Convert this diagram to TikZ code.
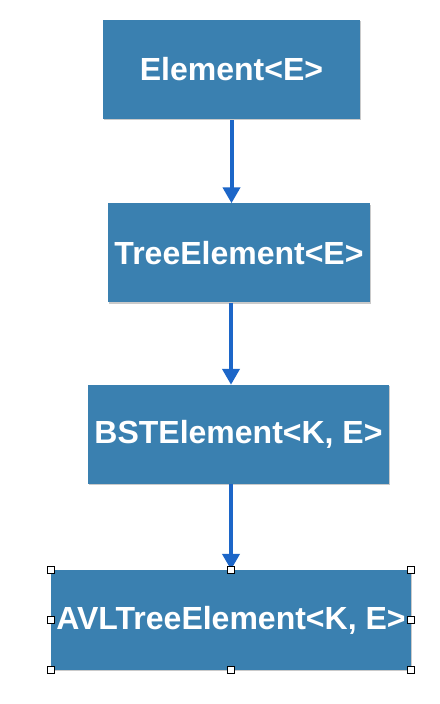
\documentclass[tikz,border=0pt]{standalone}
\usepackage{fontspec}
\setmainfont{Liberation Sans}
\usetikzlibrary{arrows.meta,shadows}
\definecolor{boxblue}{RGB}{58,128,176}
\definecolor{arrowblue}{RGB}{28,102,200}
\tikzset{
  classbox/.style={fill=boxblue, draw=none, minimum height=99pt, inner sep=0pt,
    text=white, font=\fontsize{32}{36}\selectfont\bfseries,
    drop shadow={shadow xshift=1pt, shadow yshift=-1.5pt, opacity=0.35, fill=black!60}},
  inherit/.style={draw=arrowblue, line width=4pt, -{Triangle[length=16pt,width=17pt]}},
  handle/.style={draw=black, fill=white, line width=0.8pt, minimum size=7pt, inner sep=0pt}
}
\begin{document}
\begin{tikzpicture}[x=1pt,y=1pt]
\useasboundingbox (0,0) rectangle (439,704);
\node[classbox, minimum width=257pt] (b1) at (231.5,634.5) {Element<E>};
\node[classbox, minimum width=262pt] (b2) at (239,451) {TreeElement<E>};
\node[classbox, minimum width=301pt] (b3) at (238.5,269.5) {BSTElement<K, E>};
\node[classbox, minimum width=360pt, minimum height=100pt] (b4) at (231,84) {AVLTreeElement<K, E>};
\coordinate (a1) at ([yshift=-1pt]b1.south);
\coordinate (a2) at (231,0 |- b2.south);
\coordinate (a3) at (231,0 |- b3.south);
\draw[inherit] (a1) -- (a1 |- b2.north);
\draw[inherit] (a2) -- (a2 |- b3.north);
\draw[inherit] (a3) -- (a3 |- b4.north);
\foreach \a in {north west,north,north east,west,east,south west,south,south east}
  \node[handle] (h-\a) at (b4.\a) {};
\end{tikzpicture}
\end{document}
